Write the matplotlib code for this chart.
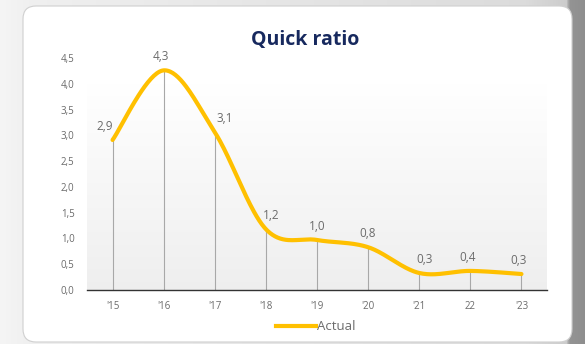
import numpy as np
import matplotlib
matplotlib.use("Agg")
import matplotlib.pyplot as plt
from matplotlib.patches import FancyBboxPatch
from matplotlib.lines import Line2D

# ---- data ----
years = ["'15", "'16", "'17", "'18", "'19", "'20", "'21", "22", "'23"]
quick_ratio = [2.91, 4.26, 3.06, 1.18, 0.97, 0.83, 0.33, 0.37, 0.31]
y_ticks = [0.0, 0.5, 1.0, 1.5, 2.0, 2.5, 3.0, 3.5, 4.0, 4.5]
title = "Quick ratio"
series_name = "Actual"

W, H = 585, 344
DPI = 100
fig = plt.figure(figsize=(W / DPI, H / DPI), dpi=DPI)

# ---- background (gray shadowed page) ----
bg = fig.add_axes([0, 0, 1, 1], zorder=-10)
bg.set_xlim(0, W)
bg.set_ylim(0, H)
bg.axis("off")
xs = np.linspace(0, 1, 300)
grad = np.interp(xs, [0, 0.05, 0.9, 0.97, 0.975, 1.0], [0.96, 0.94, 0.86, 0.80, 0.58, 0.56])
img = np.tile(grad, (10, 1))
bg.imshow(np.dstack([img, img, img]), extent=[0, W, 0, H], aspect="auto", zorder=0)
card = FancyBboxPatch((23, 2), 549, 336, boxstyle="round,pad=0,rounding_size=13",
                      facecolor="white", edgecolor="#d0d0d0", linewidth=0.8, zorder=1)
bg.add_patch(card)

# ---- main axes ----
left, right, top, bottom = 87, 547, 58, 290
ax = fig.add_axes([left / W, (H - bottom) / H, (right - left) / W, (bottom - top) / H])
ax.set_facecolor("none")
n = len(years)
x = np.arange(n)
ax.set_xlim(-0.5, n - 0.5)
ax.set_ylim(0, 4.5)

# plot area gradient (up to 4.0)
g = np.linspace(0.935, 1.0, 100).reshape(-1, 1)
ax.imshow(np.dstack([g, g, g]), extent=[-0.5, n - 0.5, 0, 4.0], origin="lower",
          aspect="auto", zorder=0)

# drop lines
ax.vlines(x, 0, quick_ratio, color="#a8a8a8", linewidth=0.8, zorder=2)

# smoothed line (Catmull-Rom style Bezier, like Excel smoothing)
xv = x.astype(float)
yv = np.array(quick_ratio, dtype=float)
px = np.concatenate([[xv[0]], xv, [xv[-1]]])
py = np.concatenate([[yv[0]], yv, [yv[-1]]])
sx, sy = [], []
t = np.linspace(0, 1, 40)
for i in range(1, n):
    p0 = np.array([px[i - 1], py[i - 1]])
    p1 = np.array([px[i], py[i]])
    p2 = np.array([px[i + 1], py[i + 1]])
    p3 = np.array([px[i + 2], py[i + 2]])
    c1 = p1 + (p2 - p0) / 6
    c2 = p2 - (p3 - p1) / 6
    b = ((1 - t) ** 3)[:, None] * p1 + (3 * (1 - t) ** 2 * t)[:, None] * c1 \
        + (3 * (1 - t) * t ** 2)[:, None] * c2 + (t ** 3)[:, None] * p2
    sx.extend(b[:, 0])
    sy.extend(b[:, 1])
ax.plot(sx, sy, color="#FFC000", linewidth=3.0, solid_capstyle="round", zorder=3,
        label=series_name)

# data labels
dx_off = [-6, -2, 7, 4, 0, 0, 4, -2, -2]
for xi, yi, dx in zip(x, quick_ratio, dx_off):
    ax.annotate(f"{yi:.1f}".replace(".", ","), (xi, yi), xytext=(dx, 5),
                textcoords="offset points", ha="center", va="bottom",
                fontsize=8.5, color="#6b6b6b", family="Open Sans", zorder=4)

# axes styling
for s in ["top", "right", "left"]:
    ax.spines[s].set_visible(False)
ax.spines["bottom"].set_color("#333333")
ax.spines["bottom"].set_linewidth(1.0)
ax.set_xticks(x)
ax.set_xticklabels(years)
ax.set_yticks(y_ticks)
ax.set_yticklabels([f"{v:.1f}".replace(".", ",") for v in y_ticks])
ax.tick_params(axis="both", length=0, labelsize=7, labelcolor="#6b6b6b")
ax.tick_params(axis="y", pad=9)
ax.tick_params(axis="x", pad=8)
for lab in ax.get_xticklabels() + ax.get_yticklabels():
    lab.set_family("Open Sans")

# title
fig.text(305 / W, 1 - 40 / H, title, ha="center", va="center", fontsize=14,
         fontweight="bold", color="#17295e", family="Open Sans")

# legend
leg = fig.legend(handles=[Line2D([0], [0], color="#FFC000", linewidth=3.0)],
                 labels=[series_name], loc="center", bbox_to_anchor=(316 / W, 17 / H),
                 frameon=False, handlelength=3.0, handletextpad=0.1,
                 prop={"family": "Open Sans", "size": 9.5})
for tx in leg.get_texts():
    tx.set_color("#6b6b6b")

fig.savefig("out.png", dpi=DPI)
